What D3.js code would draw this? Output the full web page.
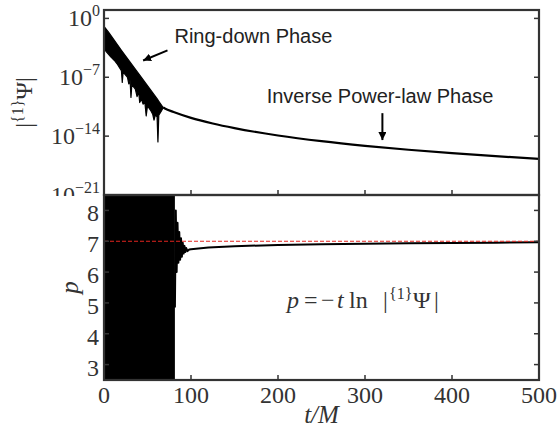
<!DOCTYPE html>
<html>
<head>
<meta charset="utf-8">
<script src="https://cdn.jsdelivr.net/npm/d3@7"></script>
<style>
  body { margin: 0; background: #fff; }
  svg { display: block; }
</style>
</head>
<body>
<div id="chart"></div>
<script>
"use strict";

// ---- data ----
// top panel: ring-down band (upper / lower envelope of the oscillation)
var ringUpperT   = [0, 5, 20, 40, 62, 68];
var ringUpperPsi = [1.1e-1, 2.5e-2, 1.6e-4, 2.5e-7, 2.0e-10, 2.5e-11];
var ringLowerT   = [0, 3, 8, 12, 15, 18, 20, 21, 22, 27, 28.5, 30, 31, 32, 36, 38, 40, 41, 43, 45, 47, 48.5, 50, 54, 56, 57.5, 59, 61, 62, 63, 66, 68];
var ringLowerPsi = [2.5e-4, 1e-4, 2.5e-5, 1e-5, 4e-6, 1.3e-6, 6.3e-7, 2.5e-8, 4e-7, 1e-7, 1.6e-8, 4e-8, 4e-10, 1.3e-8, 4e-9, 5e-10, 1.6e-9, 1e-10, 2.5e-10, 6.3e-11, 1e-10, 2.5e-12, 4e-11, 1e-11, 4e-12, 8e-13, 3.2e-12, 2e-12, 2e-15, 3.2e-12, 1e-11, 2.5e-11];
// top panel: power-law tail
var tailT   = [68, 70, 80, 100, 125, 150, 200, 250, 300, 350, 400, 450, 500];
var tailPsi = [2.5e-11, 1.9e-11, 7.4e-12, 1.5e-12, 3.2e-13, 9e-14, 1.2e-14, 2.5e-15, 7e-16, 2.4e-16, 9.5e-17, 4.2e-17, 2e-17];

// bottom panel: p over the ring-down phase runs far off the axis
var pBandT    = [0, 81.5];
var pBandLow  = [-10, -10];
var pBandHigh = [20, 20];
// bottom panel: p after ring-down
var pT = [81.5, 82.5, 83.5, 84.5, 85.5, 86.5, 87.5, 88.5, 89.5, 90.5, 91.5, 92.5, 93.5, 94.5, 96, 98, 100, 120, 150, 200, 250, 300, 350, 400, 450, 500];
var pV = [4.85, 8.0, 6.0, 7.6, 6.3, 7.3, 6.4, 7.1, 6.5, 6.95, 6.6, 6.85, 6.65, 6.78, 6.68, 6.73, 6.74, 6.8, 6.84, 6.88, 6.905, 6.92, 6.935, 6.945, 6.955, 6.965];
var pRef = 7;

// ticks
var xTicks = [0, 100, 200, 300, 400, 500];
var psiTickExp = [0, -7, -14, -21];
var pTicks = [3, 4, 5, 6, 7, 8];

// annotations (data coords)
var ringArrow = { from: [73, 1.6e-4], to: [45, 1e-5] };
var ringText  = { t: 81, psi: 1.1e-3, label: "Ring-down Phase" };
var tailArrow = { from: [320, 5.4e-12], to: [320, 3.4e-15] };
var tailText  = { t: 187, psi: 8.3e-11, label: "Inverse Power-law Phase" };

// ---- layout ----
var W = 559, H = 434;
var left = 104, right = 539;
var topPanel = { y0: 10, y1: 195 };
var botPanel = { y0: 195, y1: 380 };
var axisColor = "#333";
var textColor = "#333";
var serif = "'Liberation Serif', 'DejaVu Serif', serif";
var sans = "'Liberation Sans', 'DejaVu Sans', sans-serif";

var x = d3.scaleLinear().domain([0, 500]).range([left, right]);
var yPsi = d3.scaleLog().domain([1e-21, 1e1]).range([topPanel.y1, topPanel.y0]);
var yP = d3.scaleLinear().domain([2.5, 8.5]).range([botPanel.y1, botPanel.y0]);

var svg = d3.select("#chart").append("svg")
    .attr("width", W)
    .attr("height", H);

var defs = svg.append("defs");
defs.append("clipPath").attr("id", "clipTop")
  .append("rect").attr("x", left).attr("y", topPanel.y0)
    .attr("width", right - left).attr("height", topPanel.y1 - topPanel.y0);
defs.append("clipPath").attr("id", "clipBot")
  .append("rect").attr("x", left).attr("y", botPanel.y0)
    .attr("width", right - left).attr("height", botPanel.y1 - botPanel.y0);
// the -21 label gets cut by the lower panel in the original
defs.append("clipPath").attr("id", "clipTopLabels")
  .append("rect").attr("x", 0).attr("y", 0).attr("width", left).attr("height", topPanel.y1 + 1);
defs.append("marker").attr("id", "arrowhead")
    .attr("viewBox", "0 0 10 10").attr("refX", 10).attr("refY", 5)
    .attr("markerWidth", 4).attr("markerHeight", 4)
    .attr("markerUnits", "strokeWidth")
    .attr("orient", "auto")
  .append("path").attr("d", "M0,0 L10,5 L0,10 z").attr("fill", "#000");

// ================= top panel =================
var gTop = svg.append("g").attr("clip-path", "url(#clipTop)");

// ring-down band: upper envelope out, lower envelope back
var bandPts = ringUpperT.map((t, i) => [t, ringUpperPsi[i]])
  .concat(ringLowerT.map((t, i) => [t, ringLowerPsi[i]]).reverse());
var bandLine = d3.line().x(d => x(d[0])).y(d => yPsi(d[1]));
gTop.append("path")
    .attr("d", bandLine(bandPts) + "Z")
    .attr("fill", "#000")
    .attr("stroke", "#000")
    .attr("stroke-width", 1.2)
    .attr("stroke-linejoin", "round");

var tailLine = d3.line()
    .x((d, i) => x(tailT[i]))
    .y(d => yPsi(d))
    .curve(d3.curveMonotoneX);
gTop.append("path")
    .attr("d", tailLine(tailPsi))
    .attr("fill", "none")
    .attr("stroke", "#000")
    .attr("stroke-width", 2.2);

// annotations
svg.append("line")
    .attr("x1", x(ringArrow.from[0])).attr("y1", yPsi(ringArrow.from[1]))
    .attr("x2", x(ringArrow.to[0])).attr("y2", yPsi(ringArrow.to[1]))
    .attr("stroke", "#000").attr("stroke-width", 2)
    .attr("marker-end", "url(#arrowhead)");
svg.append("text")
    .attr("x", x(ringText.t)).attr("y", yPsi(ringText.psi))
    .style("font-family", sans).style("font-size", "20px")
    .attr("fill", "#222")
    .text(ringText.label);
svg.append("line")
    .attr("x1", x(tailArrow.from[0])).attr("y1", yPsi(tailArrow.from[1]))
    .attr("x2", x(tailArrow.to[0])).attr("y2", yPsi(tailArrow.to[1]))
    .attr("stroke", "#000").attr("stroke-width", 2)
    .attr("marker-end", "url(#arrowhead)");
svg.append("text")
    .attr("x", x(tailText.t)).attr("y", yPsi(tailText.psi))
    .style("font-family", sans).style("font-size", "20px")
    .attr("fill", "#222")
    .text(tailText.label);

// ticks (inward) on left, right and bottom
var tickLen = 5;
var topTicks = svg.append("g").attr("stroke", axisColor).attr("stroke-width", 1.5);
psiTickExp.forEach(function(e) {
  var yy = yPsi(Math.pow(10, e));
  topTicks.append("line").attr("x1", left).attr("x2", left + tickLen).attr("y1", yy).attr("y2", yy);
  topTicks.append("line").attr("x1", right).attr("x2", right - tickLen).attr("y1", yy).attr("y2", yy);
});
xTicks.forEach(function(t) {
  topTicks.append("line").attr("x1", x(t)).attr("x2", x(t))
    .attr("y1", topPanel.y1).attr("y2", topPanel.y1 - tickLen);
});

var topLabels = svg.append("g").attr("clip-path", "url(#clipTopLabels)");
psiTickExp.forEach(function(e) {
  var txt = topLabels.append("text")
      .attr("x", left - 4)
      .attr("y", yPsi(Math.pow(10, e)) + 8)
      .attr("text-anchor", "end")
      .attr("fill", textColor)
      .style("font-family", serif)
      .style("font-size", "24px");
  txt.append("tspan").text("10");
  txt.append("tspan").attr("dy", -10).style("font-size", "16px")
    .text(e === 0 ? "0" : "\u2212" + Math.abs(e));
});

// y label: |^{1}Psi|
var yl1 = svg.append("text")
    .attr("transform", "translate(32," + ((topPanel.y0 + topPanel.y1) / 2) + ") rotate(-90)")
    .attr("text-anchor", "middle")
    .attr("fill", textColor)
    .style("font-family", serif)
    .style("font-size", "24px");
yl1.append("tspan").text("|");
yl1.append("tspan").attr("dy", -9).style("font-size", "16px").text("{1}");
yl1.append("tspan").attr("dy", 9).text("\u03A8|");

// ================= bottom panel =================
svg.append("rect")
    .attr("x", left).attr("y", botPanel.y0)
    .attr("width", right - left).attr("height", botPanel.y1 - botPanel.y0)
    .attr("fill", "#fff");
var gBot = svg.append("g").attr("clip-path", "url(#clipBot)");

var pArea = d3.area()
    .x((d, i) => x(pBandT[i]))
    .y0((d, i) => yP(pBandLow[i]))
    .y1(d => yP(d));
gBot.append("path")
    .attr("d", pArea(pBandHigh))
    .attr("fill", "#000");

var pLine = d3.line()
    .x((d, i) => x(pT[i]))
    .y(d => yP(d));
gBot.append("path")
    .attr("d", pLine(pV))
    .attr("fill", "none")
    .attr("stroke", "#000")
    .attr("stroke-width", 2)
    .attr("stroke-linejoin", "round");

gBot.append("line")
    .attr("x1", x(0)).attr("x2", x(500))
    .attr("y1", yP(pRef)).attr("y2", yP(pRef))
    .attr("stroke", "#e3241f")
    .attr("stroke-width", 1)
    .attr("stroke-dasharray", "4,2");

var botTicks = svg.append("g").attr("stroke", axisColor).attr("stroke-width", 1.5);
pTicks.forEach(function(p) {
  botTicks.append("line").attr("x1", left).attr("x2", left + tickLen).attr("y1", yP(p)).attr("y2", yP(p));
  botTicks.append("line").attr("x1", right).attr("x2", right - tickLen).attr("y1", yP(p)).attr("y2", yP(p));
});
xTicks.forEach(function(t) {
  botTicks.append("line").attr("x1", x(t)).attr("x2", x(t))
    .attr("y1", botPanel.y1).attr("y2", botPanel.y1 - tickLen);
});

svg.append("g").selectAll("text").data(pTicks)
  .join("text")
    .attr("x", left - 5)
    .attr("y", d => yP(d) + 11)
    .attr("text-anchor", "end")
    .attr("fill", textColor)
    .style("font-family", serif)
    .style("font-size", "24px")
    .text(d => d);

svg.append("g").selectAll("text").data(xTicks)
  .join("text")
    .attr("x", d => x(d))
    .attr("y", botPanel.y1 + 23)
    .attr("text-anchor", "middle")
    .attr("fill", textColor)
    .style("font-family", serif)
    .style("font-size", "24px")
    .text(d => d);

svg.append("text")
    .attr("transform", "translate(78," + ((botPanel.y0 + botPanel.y1) / 2) + ") rotate(-90)")
    .attr("text-anchor", "middle")
    .attr("fill", textColor)
    .style("font-family", serif)
    .style("font-style", "italic")
    .style("font-size", "25px")
    .text("p");

svg.append("text")
    .attr("x", (left + right) / 2)
    .attr("y", 423)
    .attr("text-anchor", "middle")
    .attr("fill", textColor)
    .style("font-family", serif)
    .style("font-style", "italic")
    .style("font-size", "25px")
    .text("t/M");

// formula p = -t ln |^{1}Psi|  (pieces placed like the TeX spacing)
var f = svg.append("text")
    .attr("y", 308)
    .attr("fill", textColor)
    .style("font-family", serif)
    .style("font-size", "24px");
f.append("tspan").attr("x", 287).style("font-style", "italic").text("p");
f.append("tspan").attr("x", 304).text("=");
f.append("tspan").attr("x", 321).text("\u2212");
f.append("tspan").attr("x", 337).style("font-style", "italic").text("t");
f.append("tspan").attr("x", 349).text("ln");
f.append("tspan").attr("x", 383).text("|");
f.append("tspan").attr("x", 389).attr("dy", -9).style("font-size", "16px").text("{1}");
f.append("tspan").attr("x", 413).attr("dy", 9).text("\u03A8");
f.append("tspan").attr("x", 434).text("|");

// spines
[topPanel, botPanel].forEach(function(pn) {
  svg.append("rect")
      .attr("x", left).attr("y", pn.y0)
      .attr("width", right - left).attr("height", pn.y1 - pn.y0)
      .attr("fill", "none")
      .attr("stroke", axisColor)
      .attr("stroke-width", 2.2);
});
</script>
</body>
</html>
